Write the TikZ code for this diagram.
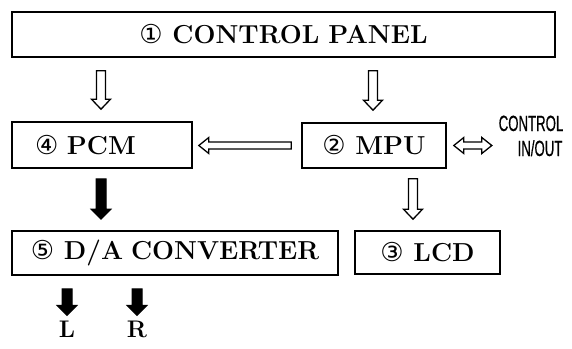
\documentclass[tikz,border=0pt]{standalone}
\usepackage{fontspec}
\usetikzlibrary{calc}
\newfontfamily\circfont{DejaVu Sans}
\newfontfamily\narrowfont{Liberation Sans}[FakeStretch=0.6,FakeBold=0.5]

\tikzset{
	shaft half/.store in=\shafthalf, shaft half=4.5pt,
	head half/.store in=\headhalf, head half=9.5pt
}
% block arrow from #2 (tail) to #3 (tip)
\newcommand{\blockarrow}[3][]{%
	\path ($(#3)!10pt!(#2)$) coordinate (ba-c);
	\draw[#1] ($(#2)!\shafthalf!90:(#3)$) -- ($(ba-c)!\shafthalf!-90:(#2)$)
		-- ($(ba-c)!\headhalf!-90:(#2)$) -- (#3) -- ($(ba-c)!\headhalf!90:(#2)$)
		-- ($(ba-c)!\shafthalf!90:(#2)$) -- ($(#2)!\shafthalf!-90:(#3)$) -- cycle;}
% block arrow with a tip at both ends
\newcommand{\dblarrow}[3][]{%
	\path ($(#2)!10pt!(#3)$) coordinate (ba-a) ($(#3)!10pt!(#2)$) coordinate (ba-b);
	\draw[#1] (#2) -- ($(ba-a)!\headhalf!90:(#3)$) -- ($(ba-a)!\shafthalf!90:(#3)$)
		-- ($(ba-b)!\shafthalf!-90:(#2)$) -- ($(ba-b)!\headhalf!-90:(#2)$) -- (#3)
		-- ($(ba-b)!\headhalf!90:(#2)$) -- ($(ba-b)!\shafthalf!90:(#2)$)
		-- ($(ba-a)!\shafthalf!-90:(#3)$) -- ($(ba-a)!\headhalf!-90:(#3)$) -- cycle;}
\newcommand{\cnum}[1]{{\mdseries\circfont #1}}

\begin{document}
\begin{tikzpicture}[
		x=1pt,y=-1pt,
		unitbox/.style={draw=black,line width=1.6pt,fill=white,inner sep=0pt,
			font=\bfseries\fontsize{26}{30}\selectfont},
		hollow/.style={draw=black,fill=white,line width=1.3pt,line join=miter},
		solid/.style={draw=black,fill=black,line width=1pt,line join=miter,
			shaft half=5pt,head half=10pt},
		flat/.style={shaft half=3.5pt,head half=8pt},
		outlabel/.style={inner sep=3pt,font=\bfseries\fontsize{24}{28}\selectfont},
		iolabel/.style={inner sep=0pt,text height=16pt,text depth=0pt,
			font=\narrowfont\fontsize{22}{24}\selectfont}
		]
		\useasboundingbox (0,0) rectangle (572,348);

		\node[unitbox,minimum width=543pt,minimum height=45pt] (panel) at (283.5,34.5)
			{\cnum{①}\ CONTROL\hspace{9pt}PANEL};
		\node[unitbox,minimum height=46pt,text width=134pt,inner xsep=23pt,align=left]
			(pcm) at (102,145) {\cnum{④}\ PCM};
		\node[unitbox,minimum width=144pt,minimum height=45pt] (mpu) at (374,145.5)
			{\cnum{②}\ MPU};
		\node[unitbox,minimum width=326pt,minimum height=44pt] (da) at (175,253)
			{\cnum{⑤}\ D/A\hspace{8pt}CONVERTER};
		\node[unitbox,minimum width=145pt,minimum height=43pt] (lcd) at (427.5,252.5)
			{\cnum{③}\ LCD};

		\node[iolabel] (ctrl) at (531,123) {CONTROL};
		\node[iolabel] (inout) at (540,148) {IN/OUT};
		\node[outlabel,anchor=base] (lout) at (67,337) {L};
		\node[outlabel,anchor=base] (rout) at (137,337) {R};

		\coordinate (panel-pcm) at ($(panel.south -| pcm.north)+(-1,13)$);
		\coordinate (pcm-top) at ($(pcm.north)+(-1,-12)$);
		\coordinate (panel-mpu) at ($(panel.south -| mpu.north)+(-1,13)$);
		\coordinate (mpu-top) at ($(mpu.north)+(-1,-12)$);
		\coordinate (mpu-left) at ($(mpu.west)+(-10,0)$);
		\coordinate (pcm-right) at ($(pcm.east |- mpu.west)+(6,0)$);
		\coordinate (mpu-right) at ($(mpu.east)+(7,0)$);
		\coordinate (io-left) at ($(mpu.east)+(45,0)$);
		\coordinate (pcm-bot) at ($(pcm.south)+(-1,10)$);
		\coordinate (da-top) at ($(da.north -| pcm.south)+(-1,-11)$);
		\coordinate (mpu-bot) at ($(mpu.south)+(39,10)$);
		\coordinate (lcd-top) at ($(lcd.north)+(-14.5,-11)$);
		\coordinate (da-l) at ($(da.south -| lout.north)+(0,13)$);
		\coordinate (l-top) at ($(lout.north)+(0,-2)$);
		\coordinate (da-r) at ($(da.south -| rout.north)+(0,13)$);
		\coordinate (r-top) at ($(rout.north)+(0,-2)$);

		\blockarrow[hollow]{panel-pcm}{pcm-top}
		\blockarrow[hollow]{panel-mpu}{mpu-top}
		\blockarrow[hollow,flat]{mpu-left}{pcm-right}
		\dblarrow[hollow,flat]{mpu-right}{io-left}
		\blockarrow[solid]{pcm-bot}{da-top}
		\blockarrow[hollow]{mpu-bot}{lcd-top}
		\blockarrow[solid]{da-l}{l-top}
		\blockarrow[solid]{da-r}{r-top}
	\end{tikzpicture}
\end{document}
